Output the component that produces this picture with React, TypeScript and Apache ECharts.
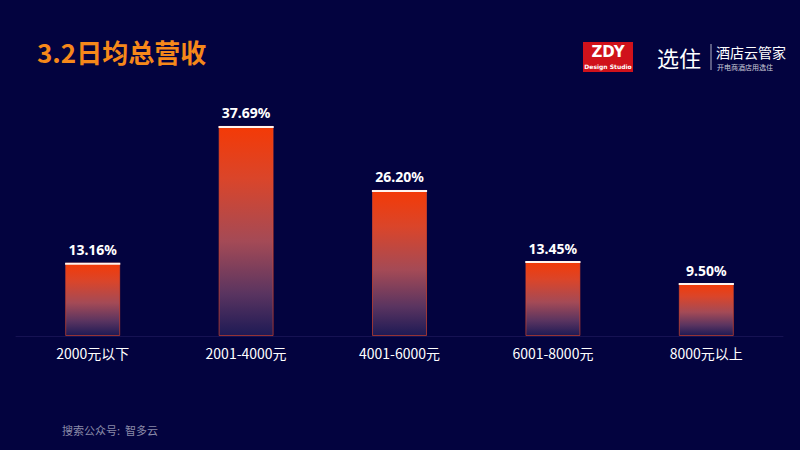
import React, { useEffect, useRef } from "react";
import * as echarts from "echarts";

const categories = ["2000元以下", "2001-4000元", "4001-6000元", "6001-8000元", "8000元以上"];
const shares = [13.16, 37.69, 26.2, 13.45, 9.5];
const titleText = "3.2日均总营收";
const footerText = "搜索公众号:  智多云";

export default function App() {
  const ref = useRef<HTMLDivElement>(null);
  useEffect(() => {
    if (!ref.current) return;
    const chart = echarts.init(ref.current, null, { renderer: "svg" });
    const barGrad = new echarts.graphic.LinearGradient(0, 0, 0, 1, [
      { offset: 0, color: "#F43A06" },
      { offset: 0.25, color: "#DA452A" },
      { offset: 0.55, color: "#A44A56" },
      { offset: 0.8, color: "#5A3460" },
      { offset: 1, color: "#1E1A55" },
    ]);
    chart.setOption({
      animation: false,
      backgroundColor: "#03033F",
      grid: { left: 16, right: 17, top: 113, bottom: 114 },
      xAxis: {
        type: "category",
        data: categories,
        axisLine: { lineStyle: { color: "rgba(60,50,120,0.35)" } },
        axisTick: { show: false },
        axisLabel: { color: "#FFFFFF", fontSize: 14, margin: 10, fontFamily: "Noto Sans CJK SC" },
      },
      yAxis: { type: "value", min: 0, max: 40, show: false, splitLine: { show: false } },
      series: [
        {
          type: "bar",
          data: shares,
          barWidth: 55,
          itemStyle: { color: barGrad, borderColor: "rgba(235,75,40,0.6)", borderWidth: 1 },
          label: {
            show: true,
            position: "top",
            distance: 6,
            color: "#FFFFFF",
            fontSize: 14,
            fontWeight: "bold",
            fontFamily: "Noto Sans",
            formatter: (p: any) => p.value.toFixed(2) + "%",
          },
          z: 2,
        },
        {
          type: "pictorialBar",
          data: shares,
          symbol: "rect",
          symbolSize: [55, 2],
          symbolPosition: "end",
          symbolOffset: [0, 0],
          barGap: "-100%",
          itemStyle: { color: "#FFF4EE" },
          z: 3,
        },
      ],
      graphic: [
        {
          type: "text",
          left: 37,
          top: 38,
          style: {
            text: titleText,
            fill: "#F6881A",
            font: "bold 26px 'Noto Sans CJK SC'",
          },
        },
        {
          type: "rect",
          shape: { x: 583, y: 42, width: 50, height: 30 },
          style: { fill: "#D0121B" },
        },
        {
          type: "text",
          x: 608,
          y: 52,
          style: {
            text: "ZDY",
            fill: "#FFFFFF",
            font: "bold 15px 'DejaVu Sans'",
            align: "center",
            verticalAlign: "middle",
          },
        },
        {
          type: "text",
          x: 608,
          y: 66,
          style: {
            text: "Design Studio",
            fill: "#FFFFFF",
            font: "bold 6px 'DejaVu Sans'",
            align: "center",
            verticalAlign: "middle",
          },
        },
        {
          type: "text",
          x: 657,
          y: 57,
          style: {
            text: "选住",
            fill: "#FFFFFF",
            font: "22px 'Noto Sans CJK SC'",
            verticalAlign: "middle",
          },
        },
        {
          type: "line",
          shape: { x1: 711, y1: 44, x2: 711, y2: 70 },
          style: { stroke: "rgba(255,255,255,0.7)", lineWidth: 1 },
        },
        {
          type: "text",
          x: 716,
          y: 52,
          style: {
            text: "酒店云管家",
            fill: "#FFFFFF",
            font: "14px 'Noto Sans CJK SC'",
            verticalAlign: "middle",
          },
        },
        {
          type: "text",
          x: 717,
          y: 67,
          style: {
            text: "开电商酒店用选住",
            fill: "rgba(255,255,255,0.8)",
            font: "7px 'Noto Sans CJK SC'",
            verticalAlign: "middle",
          },
        },
        {
          type: "text",
          x: 62,
          y: 430,
          style: {
            text: footerText,
            fill: "#8A8AA8",
            font: "11px 'Noto Sans CJK SC'",
            verticalAlign: "middle",
          },
        },
      ],
    });
    return () => chart.dispose();
  }, []);
  return <div ref={ref} style={{ width: 800, height: 450, position: "fixed", left: 0, top: 0 }} />;
}
